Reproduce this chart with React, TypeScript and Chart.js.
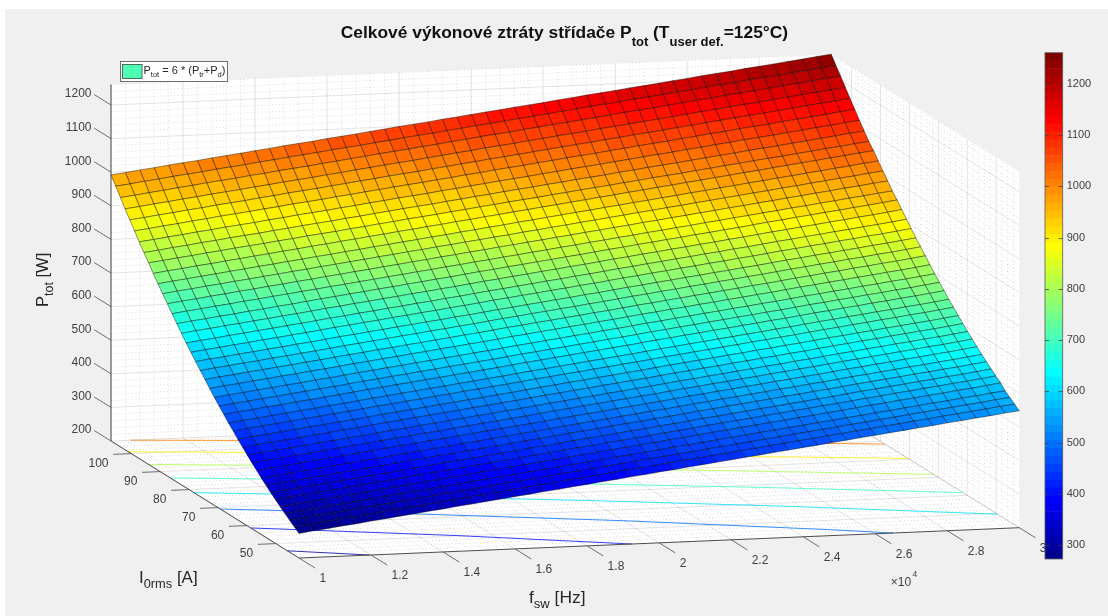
import React, { useEffect, useRef } from "react";
import { Chart, registerables } from "chart.js";
Chart.register(...registerables);

const frequencies = [10000, 10400, 10800, 11200, 11600, 12000, 12400, 12800, 13200, 13600, 14000, 14400, 14800, 15200, 15600, 16000, 16400, 16800, 17200, 17600, 18000, 18400, 18800, 19200, 19600, 20000, 20400, 20800, 21200, 21600, 22000, 22400, 22800, 23200, 23600, 24000, 24400, 24800, 25200, 25600, 26000, 26400, 26800, 27200, 27600, 28000, 28400, 28800, 29200, 29600, 30000];
const currents = [42, 43.63, 45.25, 46.88, 48.5, 50.13, 51.75, 53.38, 55, 56.63, 58.25, 59.88, 61.5, 63.13, 64.75, 66.38, 68, 69.63, 71.25, 72.88, 74.5, 76.13, 77.75, 79.38, 81, 82.63, 84.25, 85.88, 87.5, 89.13, 90.75, 92.38, 94, 95.63, 97.25, 98.88, 100.5, 102.13, 103.75, 105.38, 107];
const lossRows = [
[273,279,284,290,295,301,306,312,317,323,328,334,339,345,350,356,361,367,372,378,383,389,394,400,405,411,416,422,427,433,438,444,449,455,460,466,471,477,482,488,493,499,504,510,515,521,526,532,537,543,548],
[284,290,295,301,306,312,317,323,328,334,339,345,350,356,361,367,372,378,383,389,394,400,405,411,416,422,427,433,438,444,449,455,460,466,471,477,482,488,493,499,504,510,515,521,526,532,537,543,548,554,559],
[295,301,306,312,317,323,328,334,339,345,350,356,361,367,372,378,383,389,394,400,405,411,416,422,427,433,438,444,449,455,460,466,471,477,482,488,493,499,504,510,515,521,526,532,537,543,548,554,559,565,570],
[306,312,317,323,328,334,339,345,350,356,361,367,372,378,383,389,394,400,405,411,416,422,427,433,438,444,449,455,460,466,471,477,482,488,493,499,504,510,515,521,526,532,537,543,548,554,559,565,570,576,581],
[318,324,329,335,340,346,351,357,362,368,374,379,385,390,396,401,407,412,418,423,429,435,440,446,451,457,462,468,473,479,485,490,496,501,507,512,518,523,529,534,540,546,551,557,562,568,573,579,584,590,596],
[330,336,341,347,352,358,363,369,374,380,386,391,397,402,408,413,419,424,430,435,441,447,452,458,463,469,474,480,485,491,497,502,508,513,519,524,530,535,541,546,552,558,563,569,574,580,585,591,596,602,608],
[342,348,353,359,364,370,375,381,386,392,398,403,409,414,420,425,431,436,442,447,453,459,464,470,475,481,486,492,497,503,509,514,520,525,531,536,542,547,553,558,564,570,575,581,586,592,597,603,608,614,620],
[355,361,366,372,377,383,388,394,399,405,411,416,422,427,433,438,444,449,455,460,466,472,477,483,488,494,499,505,510,516,522,527,533,538,544,549,555,560,566,571,577,583,588,594,599,605,610,616,621,627,633],
[368,374,379,385,390,396,401,407,412,418,424,429,435,440,446,451,457,462,468,473,479,485,490,496,501,507,512,518,523,529,535,540,546,551,557,562,568,573,579,584,590,596,601,607,612,618,623,629,634,640,646],
[382,388,393,399,404,410,415,421,426,432,438,443,449,454,460,465,471,476,482,487,493,499,504,510,515,521,526,532,537,543,549,554,560,565,571,576,582,587,593,598,604,610,615,621,626,632,637,643,648,654,660],
[396,402,407,413,418,424,429,435,440,446,452,457,463,468,474,479,485,490,496,501,507,513,518,524,529,535,540,546,551,557,563,568,574,579,585,590,596,601,607,612,618,624,629,635,640,646,651,657,662,668,674],
[410,416,421,427,432,438,443,449,454,460,466,471,477,482,488,493,499,504,510,515,521,527,532,538,543,549,554,560,565,571,577,582,588,593,599,604,610,615,621,626,632,638,643,649,654,660,665,671,676,682,688],
[425,431,436,442,447,453,458,464,469,475,481,486,492,497,503,508,514,519,525,530,536,542,547,553,558,564,569,575,580,586,592,597,603,608,614,619,625,630,636,641,647,653,658,664,669,675,680,686,691,697,703],
[440,446,451,457,462,468,473,479,484,490,496,501,507,512,518,523,529,534,540,545,551,557,562,568,573,579,584,590,595,601,607,612,618,623,629,634,640,645,651,656,662,668,673,679,684,690,695,701,706,712,718],
[456,462,467,473,478,484,489,495,500,506,512,517,523,528,534,539,545,550,556,561,567,573,578,584,589,595,600,606,611,617,623,628,634,639,645,650,656,661,667,672,678,684,689,695,700,706,711,717,722,728,734],
[471,477,482,488,493,499,504,510,515,521,527,532,538,543,549,554,560,565,571,576,582,588,593,599,604,610,615,621,626,632,638,643,649,654,660,665,671,676,682,687,693,699,704,710,715,721,726,732,737,743,749],
[488,494,499,505,510,516,521,527,532,538,544,549,555,560,566,571,577,582,588,593,599,605,610,616,621,627,632,638,643,649,655,660,666,671,677,682,688,693,699,704,710,716,721,727,732,738,743,749,754,760,766],
[504,510,515,521,526,532,537,543,548,554,560,565,571,576,582,587,593,598,604,609,615,621,626,632,637,643,648,654,659,665,671,676,682,687,693,698,704,709,715,720,726,732,737,743,748,754,759,765,770,776,782],
[521,527,532,538,543,549,554,560,565,571,577,582,588,593,599,604,610,615,621,626,632,638,643,649,654,660,665,671,676,682,688,693,699,704,710,715,721,726,732,737,743,749,754,760,765,771,776,782,787,793,799],
[539,545,550,556,561,567,572,578,583,589,595,600,606,611,617,622,628,633,639,644,650,656,661,667,672,678,683,689,694,700,706,711,717,722,728,733,739,744,750,755,761,767,772,778,783,789,794,800,805,811,817],
[557,563,568,574,579,585,590,596,601,607,613,618,624,629,635,640,646,651,657,662,668,674,679,685,690,696,701,707,712,718,724,729,735,740,746,751,757,762,768,773,779,785,790,796,801,807,812,818,823,829,835],
[575,581,586,592,597,603,608,614,619,625,631,636,642,647,653,658,664,669,675,680,686,692,697,703,708,714,719,725,730,736,742,747,753,758,764,769,775,780,786,791,797,803,808,814,819,825,830,836,841,847,853],
[593,599,604,610,615,621,626,632,637,643,649,654,660,665,671,676,682,687,693,698,704,710,715,721,726,732,737,743,748,754,760,765,771,776,782,787,793,798,804,809,815,821,826,832,837,843,848,854,859,865,871],
[612,618,623,629,634,640,645,651,656,662,668,673,679,684,690,695,701,706,712,717,723,729,734,740,745,751,756,762,767,773,779,784,790,795,801,806,812,817,823,828,834,840,845,851,856,862,867,873,878,884,890],
[631,637,642,648,653,659,664,670,675,681,687,692,698,703,709,714,720,725,731,736,742,748,753,759,764,770,775,781,786,792,798,803,809,814,820,825,831,836,842,847,853,859,864,870,875,881,886,892,897,903,909],
[651,657,662,668,673,679,684,690,695,701,707,712,718,723,729,734,740,745,751,756,762,768,773,779,784,790,795,801,806,812,818,823,829,834,840,845,851,856,862,867,873,879,884,890,895,901,906,912,917,923,929],
[671,677,682,688,693,699,704,710,715,721,727,732,738,743,749,754,760,765,771,776,782,788,793,799,804,810,815,821,826,832,838,843,849,854,860,865,871,876,882,887,893,899,904,910,915,921,926,932,937,943,949],
[692,698,703,709,714,720,725,731,736,742,747,753,758,764,769,775,780,786,791,797,802,808,813,819,824,830,835,841,846,852,857,863,868,874,879,885,890,896,901,907,912,918,923,929,934,940,945,951,956,962,967],
[713,719,724,730,735,741,746,752,757,763,768,774,779,785,790,796,801,807,812,818,823,829,834,840,845,851,856,862,867,873,878,884,889,895,900,906,911,917,922,928,933,939,944,950,955,961,966,972,977,983,988],
[734,740,745,751,756,762,767,773,778,784,789,795,800,806,811,817,822,828,833,839,844,850,855,861,866,872,877,883,888,894,899,905,910,916,921,927,932,938,943,949,954,960,965,971,976,982,987,993,998,1004,1009],
[755,761,766,772,777,783,788,794,799,805,810,816,821,827,832,838,843,849,854,860,865,871,876,882,887,893,898,904,909,915,920,926,931,937,942,948,953,959,964,970,975,981,986,992,997,1003,1008,1014,1019,1025,1030],
[777,783,788,794,799,805,810,816,821,827,832,838,843,849,854,860,865,871,876,882,887,893,898,904,909,915,920,926,931,937,942,948,953,959,964,970,975,981,986,992,997,1003,1008,1014,1019,1025,1030,1036,1041,1047,1052],
[800,805,811,816,822,827,833,838,843,849,854,860,865,870,876,881,887,892,898,903,908,914,919,925,930,936,941,946,952,957,963,968,973,979,984,990,995,1000,1006,1011,1017,1022,1028,1033,1038,1044,1049,1055,1060,1066,1071],
[822,827,833,838,844,849,855,860,865,871,876,882,887,892,898,903,909,914,920,925,930,936,941,947,952,958,963,968,974,979,985,990,995,1001,1006,1012,1017,1022,1028,1033,1039,1044,1050,1055,1060,1066,1071,1077,1082,1088,1093],
[845,850,856,861,867,872,878,883,888,894,899,905,910,915,921,926,932,937,943,948,953,959,964,970,975,981,986,991,997,1002,1008,1013,1018,1024,1029,1035,1040,1045,1051,1056,1062,1067,1073,1078,1083,1089,1094,1100,1105,1111,1116],
[869,874,880,885,891,896,902,907,912,918,923,929,934,939,945,950,956,961,967,972,977,983,988,994,999,1005,1010,1015,1021,1026,1032,1037,1042,1048,1053,1059,1064,1069,1075,1080,1086,1091,1097,1102,1107,1113,1118,1124,1129,1135,1140],
[893,898,904,909,915,920,926,931,936,942,947,953,958,963,969,974,980,985,991,996,1001,1007,1012,1018,1023,1029,1034,1039,1045,1050,1056,1061,1066,1072,1077,1083,1088,1093,1099,1104,1110,1115,1121,1126,1131,1137,1142,1148,1153,1159,1164],
[917,922,928,933,939,944,950,955,960,966,971,977,982,987,993,998,1004,1009,1015,1020,1025,1031,1036,1042,1047,1053,1058,1063,1069,1074,1080,1085,1090,1096,1101,1107,1112,1117,1123,1128,1134,1139,1145,1150,1155,1161,1166,1172,1177,1183,1188],
[942,947,953,958,964,969,975,980,985,991,996,1002,1007,1012,1018,1023,1029,1034,1040,1045,1050,1056,1061,1067,1072,1078,1083,1088,1094,1099,1105,1110,1115,1121,1126,1132,1137,1142,1148,1153,1159,1164,1170,1175,1180,1186,1191,1197,1202,1208,1213],
[967,972,978,983,989,994,999,1005,1010,1015,1021,1026,1032,1037,1042,1048,1053,1058,1064,1069,1075,1080,1085,1091,1096,1102,1107,1112,1118,1123,1128,1134,1139,1145,1150,1155,1161,1166,1171,1177,1182,1188,1193,1198,1204,1209,1214,1220,1225,1231,1236],
[992,997,1003,1008,1014,1019,1024,1030,1035,1040,1046,1051,1057,1062,1067,1073,1078,1083,1089,1094,1100,1105,1110,1116,1121,1127,1132,1137,1143,1148,1153,1159,1164,1170,1175,1180,1186,1191,1196,1202,1207,1213,1218,1223,1229,1234,1239,1245,1250,1256,1261],
];
const contourLevels = [1000, 900, 800, 700, 600, 500, 400, 300];
const contourF = [
  [10540, 15000, 20000, 25000, 30000],
  [10000, 15000, 20000, 25000, 30000],
  [10000, 15000, 20000, 25000, 30000],
  [10000, 15000, 20000, 25000, 30000],
  [10000, 15000, 20000, 25000, 30000],
  [10000, 15000, 20000, 25000, 26500],
  [10000, 15000, 19240],
  [10000, 11960],
];
const contourI = [
  [107, 103.0, 98.4, 93.6, 88.5],
  [101.0, 96.3, 91.3, 86.0, 80.5],
  [94.0, 88.9, 83.5, 77.8, 71.6],
  [86.5, 81.0, 75.0, 68.6, 61.5],
  [78.3, 72.2, 65.5, 58.0, 49.5],
  [69.2, 62.2, 54.3, 45.1, 42],
  [58.7, 50.3, 42],
  [46.0, 42],
];
const fTicks = [10000, 12000, 14000, 16000, 18000, 20000, 22000, 24000, 26000, 28000, 30000];
const fTickLabels = ["1", "1.2", "1.4", "1.6", "1.8", "2", "2.2", "2.4", "2.6", "2.8", "3"];
const iTicks = [50, 60, 70, 80, 90, 100];
const zTicks = [200, 300, 400, 500, 600, 700, 800, 900, 1000, 1100, 1200];
const cbTicks = [300, 400, 500, 600, 700, 800, 900, 1000, 1100, 1200];

const F0 = 10000, F1 = 30000, I0 = 42, I1 = 107, Z0 = 200, Z1 = 1261, C0 = 273, C1 = 1261;
const project = (f: number, i: number, z: number) => ({
  x: 299 + ((f - F0) / (F1 - F0)) * 720.3 - ((i - I0) / (I1 - I0)) * 188,
  y: 558 - ((f - F0) / (F1 - F0)) * 30.3 - ((i - I0) / (I1 - I0)) * 117 - (z - Z0) * 0.336,
});

const jetRgb: number[][] = (() => {
  const n = 16, c = Array.from({ length: 64 }, () => [0, 0, 0]);
  const u: number[] = [];
  for (let i = 1; i <= n; i++) u.push(i / n);
  for (let i = 0; i < n - 1; i++) u.push(1);
  for (let i = n; i >= 1; i--) u.push(i / n);
  u.forEach((v, k) => {
    const g = 9 + k, r = g + n, b = g - n;
    if (r <= 64) c[r - 1][0] = v;
    if (g <= 64) c[g - 1][1] = v;
    if (b >= 1) c[b - 1][2] = v;
  });
  return c.map((a) => a.map((v) => Math.round(v * 255)));
})();
const jet = jetRgb.map((a) => `rgb(${a[0]},${a[1]},${a[2]})`);
const indexOf = (p: number) => Math.max(0, Math.min(63, Math.floor(((p - C0) / (C1 - C0)) * 64)));
const colorOf = (p: number) => jet[indexOf(p)];
const softColorOf = (p: number) => {
  const a = jetRgb[indexOf(p)];
  return `rgba(${a[0]},${a[1]},${a[2]},0.8)`;
};

const FONT = '"Liberation Sans"';
const TXT = "#404040";

type Part = { t: string; sub?: boolean };
function rich(ctx: CanvasRenderingContext2D, x: number, y: number, parts: Part[], size: number, subSize: number, drop: number, weight = "", color = "#262626") {
  ctx.fillStyle = color;
  ctx.textAlign = "left";
  ctx.textBaseline = "alphabetic";
  let cx = x;
  for (const p of parts) {
    ctx.font = `${weight} ${p.sub ? subSize : size}px ${FONT}`;
    ctx.fillText(p.t, cx, p.sub ? y + drop : y);
    cx += ctx.measureText(p.t).width;
  }
}

function line(pts: { x: number; y: number }[], color: string, width: number, dash?: number[]) {
  return { data: pts, showLine: true, pointRadius: 0, borderColor: color, borderWidth: width, borderDash: dash || [], fill: false, tension: 0 };
}
function quad(pts: { x: number; y: number }[], fill: string, edge: string, width: number) {
  return { data: [...pts, pts[0]], showLine: true, pointRadius: 0, backgroundColor: fill, borderColor: edge, borderWidth: width, fill: "shape", tension: 0, borderJoinStyle: "miter" };
}

function buildDatasets() {
  const top: any[] = [];
  for (let r = 0; r < currents.length - 1; r++) {
    for (let c = 0; c < frequencies.length - 1; c++) {
      top.push(
        quad(
          [
            project(frequencies[c], currents[r], lossRows[r][c]),
            project(frequencies[c + 1], currents[r], lossRows[r][c + 1]),
            project(frequencies[c + 1], currents[r + 1], lossRows[r + 1][c + 1]),
            project(frequencies[c], currents[r + 1], lossRows[r + 1][c]),
          ],
          colorOf(lossRows[r][c]),
          "rgba(0,0,0,0.7)",
          0.6
        )
      );
    }
  }
  const AX = "#4d4d4d";
  top.push(line([project(F0, I1, Z0), project(F0, I1, Z1)], AX, 1));
  top.push(line([project(F0, I1, Z0), project(F0, I0, Z0)], AX, 1));
  top.push(line([project(F0, I0, Z0), project(F1, I0, Z0)], AX, 1));
  for (const z of zTicks) {
    top.push(line([project(F0, I1, z), project(F0, I1 + 5.8, z)], AX, 0.8));
  }
  for (const i of iTicks) {
    const a = project(F0, i, Z0), b = project(F0 - 500, i, Z0);
    top.push(line([a, b], AX, 0.8));
  }
  for (const f of fTicks) {
    top.push(line([project(f, I0, Z0), project(f, I0 - 5.6, Z0)], AX, 0.8));
  }
  contourLevels.forEach((lvl, n) => {
    top.push(line(contourF[n].map((f, k) => project(f, contourI[n][k], Z0)), softColorOf(lvl), 1));
  });
  const MAJ = "rgba(0,0,0,0.11)";
  for (const f of fTicks) {
    top.push(line([project(f, I0, Z0), project(f, I1, Z0), project(f, I1, Z1)], MAJ, 1));
  }
  for (const i of iTicks) {
    top.push(line([project(F0, i, Z0), project(F1, i, Z0), project(F1, i, Z1)], MAJ, 1));
  }
  for (const z of zTicks) {
    top.push(line([project(F0, I1, z), project(F1, I1, z), project(F1, I0, z)], MAJ, 1));
  }
  const MIN = "rgba(0,0,0,0.2)";
  const D = [1, 2.5];
  for (let f = F0; f <= F1; f += 400) {
    if ((f - F0) % 2000 === 0) continue;
    top.push(line([project(f, I0, Z0), project(f, I1, Z0), project(f, I1, Z1)], MIN, 0.7, D));
  }
  for (let i = 44; i <= 106; i += 2) {
    if (i % 10 === 0) continue;
    top.push(line([project(F0, i, Z0), project(F1, i, Z0), project(F1, i, Z1)], MIN, 0.7, D));
  }
  for (let z = 220; z <= 1260; z += 20) {
    if (z % 100 === 0) continue;
    top.push(line([project(F0, I1, z), project(F1, I1, z), project(F1, I0, z)], MIN, 0.7, D));
  }
  top.push(quad([project(F0, I1, Z0), project(F1, I1, Z0), project(F1, I1, Z1), project(F0, I1, Z1)], "#ffffff", "#ffffff", 0));
  top.push(quad([project(F1, I1, Z0), project(F1, I0, Z0), project(F1, I0, Z1), project(F1, I1, Z1)], "#ffffff", "#ffffff", 0));
  top.push(quad([project(F0, I1, Z0), project(F1, I1, Z0), project(F1, I0, Z0), project(F0, I0, Z0)], "#ffffff", "#ffffff", 0));
  return top;
}

const backdrop = {
  id: "backdrop",
  beforeDraw(chart: any) {
    const c = chart.ctx;
    c.save();
    c.fillStyle = "#ffffff";
    c.fillRect(0, 0, 1108, 616);
    c.fillStyle = "#f0f0f0";
    c.fillRect(5, 9, 1103, 607);
    c.restore();
  },
};

const labels = {
  id: "labels",
  afterDraw(chart: any) {
    const c: CanvasRenderingContext2D = chart.ctx;
    c.save();
    c.fillStyle = TXT;
    c.font = `12px ${FONT}`;
    c.textBaseline = "middle";
    c.textAlign = "right";
    zTicks.forEach((z) => {
      const p = project(F0, I1, z);
      c.fillText(String(z), 91.5, p.y - 11);
    });
    iTicks.forEach((i) => {
      const p = project(F0, i, Z0);
      c.fillText(String(i), p.x - 22.7, p.y + 10.5);
    });
    c.textAlign = "left";
    fTicks.forEach((f, n) => {
      const p = project(f, I0, Z0);
      c.fillText(fTickLabels[n], p.x + 20.5, p.y + 21);
    });
    rich(c, 890.7, 586, [{ t: "×10" }], 12, 8, 0, "", TXT);
    c.font = `8.5px ${FONT}`;
    c.fillText("4", 912.5, 577);

    rich(c, 340.7, 38.3, [{ t: "Celkové výkonové ztráty střídače P" }, { t: "tot", sub: true }, { t: " (T" }, { t: "user def.", sub: true }, { t: "=125°C)" }], 17.4, 13, 7.5, "bold", "#111111");
    rich(c, 529, 603, [{ t: "f" }, { t: "sw", sub: true }, { t: " [Hz]" }], 17.4, 13, 5);
    rich(c, 139, 583, [{ t: "I" }, { t: "0rms", sub: true }, { t: " [A]" }], 17, 12.8, 5);
    c.save();
    c.translate(48, 307);
    c.rotate(-Math.PI / 2);
    rich(c, 0, 0, [{ t: "P" }, { t: "tot", sub: true }, { t: " [W]" }], 16.5, 12.5, 5);
    c.restore();

    c.fillStyle = "#ffffff";
    c.fillRect(120.5, 61.5, 107, 20);
    c.strokeStyle = "#6e6e6e";
    c.lineWidth = 1;
    c.strokeRect(120.5, 61.5, 107, 20);
    c.fillStyle = "#4dffb3";
    c.fillRect(122.5, 64.5, 19.5, 14);
    c.strokeStyle = "#4a6a5c";
    c.strokeRect(122.5, 64.5, 19.5, 14);
    rich(c, 143.5, 73.5, [{ t: "P" }, { t: "tot", sub: true }, { t: " = 6 * (P" }, { t: "tr", sub: true }, { t: "+P" }, { t: "d", sub: true }, { t: ")" }], 11, 7.5, 3);
    c.restore();
  },
};

const cbFrame = {
  id: "cbFrame",
  afterDatasetsDraw(chart: any) {
    const { ctx: c, chartArea: a, scales } = chart;
    c.save();
    c.strokeStyle = "#5a5a5a";
    c.lineWidth = 0.8;
    c.strokeRect(a.left, a.top, a.right - a.left, a.bottom - a.top);
    cbTicks.forEach((t) => {
      const y = Math.round(scales.y.getPixelForValue(t)) + 0.5;
      c.beginPath();
      c.moveTo(a.right - 4, y);
      c.lineTo(a.right, y);
      c.moveTo(a.left, y);
      c.lineTo(a.left + 4, y);
      c.strokeStyle = "#404040";
      c.stroke();
    });
    c.restore();
  },
};

export default function App() {
  const mainRef = useRef<HTMLCanvasElement>(null);
  const barRef = useRef<HTMLCanvasElement>(null);
  useEffect(() => {
    const main = new Chart(mainRef.current!, {
      type: "scatter",
      data: { datasets: buildDatasets() },
      options: {
        responsive: false,
        animation: false,
        events: [],
        layout: { padding: 0 },
        plugins: { legend: { display: false }, tooltip: { enabled: false } },
        scales: {
          x: { type: "linear", min: 0, max: 1108, display: false },
          y: { type: "linear", min: 0, max: 616, reverse: true, display: false },
        },
      },
      plugins: [backdrop, labels],
    } as any);
    const bands = jet.map((col, i) => ({
      data: [[C0 + ((C1 - C0) * i) / 64, C0 + ((C1 - C0) * (i + 1)) / 64]],
      backgroundColor: col,
      borderWidth: 0,
      barPercentage: 1,
      categoryPercentage: 1,
      grouped: false,
    }));
    const bar = new Chart(barRef.current!, {
      type: "bar",
      data: { labels: ["Ptot"], datasets: bands },
      options: {
        responsive: false,
        animation: false,
        events: [],
        layout: { padding: { left: 5, top: 12.7, bottom: 11, right: 0 } },
        plugins: { legend: { display: false }, tooltip: { enabled: false } },
        scales: {
          x: { display: false },
          y: {
            position: "right",
            min: C0,
            max: C1,
            afterFit(s: any) {
              s.width = 45.3;
              s.paddingTop = 0;
              s.paddingBottom = 0;
            },
            grid: { display: false, drawTicks: false },
            border: { display: false },
            ticks: {
              stepSize: 100,
              includeBounds: false,
              padding: 4,
              color: TXT,
              font: { family: "Liberation Sans", size: 11 },
              callback: (v: any) => (cbTicks.includes(Number(v)) ? String(v) : ""),
            },
          },
        },
      },
      plugins: [cbFrame],
    } as any);
    return () => {
      main.destroy();
      bar.destroy();
    };
  }, []);
  return (
    <div style={{ position: "fixed", left: 0, top: 0, width: 1108, height: 616, overflow: "hidden" }}>
      <canvas ref={mainRef} width={1108} height={616} style={{ position: "absolute", left: 0, top: 0, width: 1108, height: 616 }} />
      <canvas ref={barRef} width={68} height={530} style={{ position: "absolute", left: 1040, top: 40, width: 68, height: 530 }} />
    </div>
  );
}
